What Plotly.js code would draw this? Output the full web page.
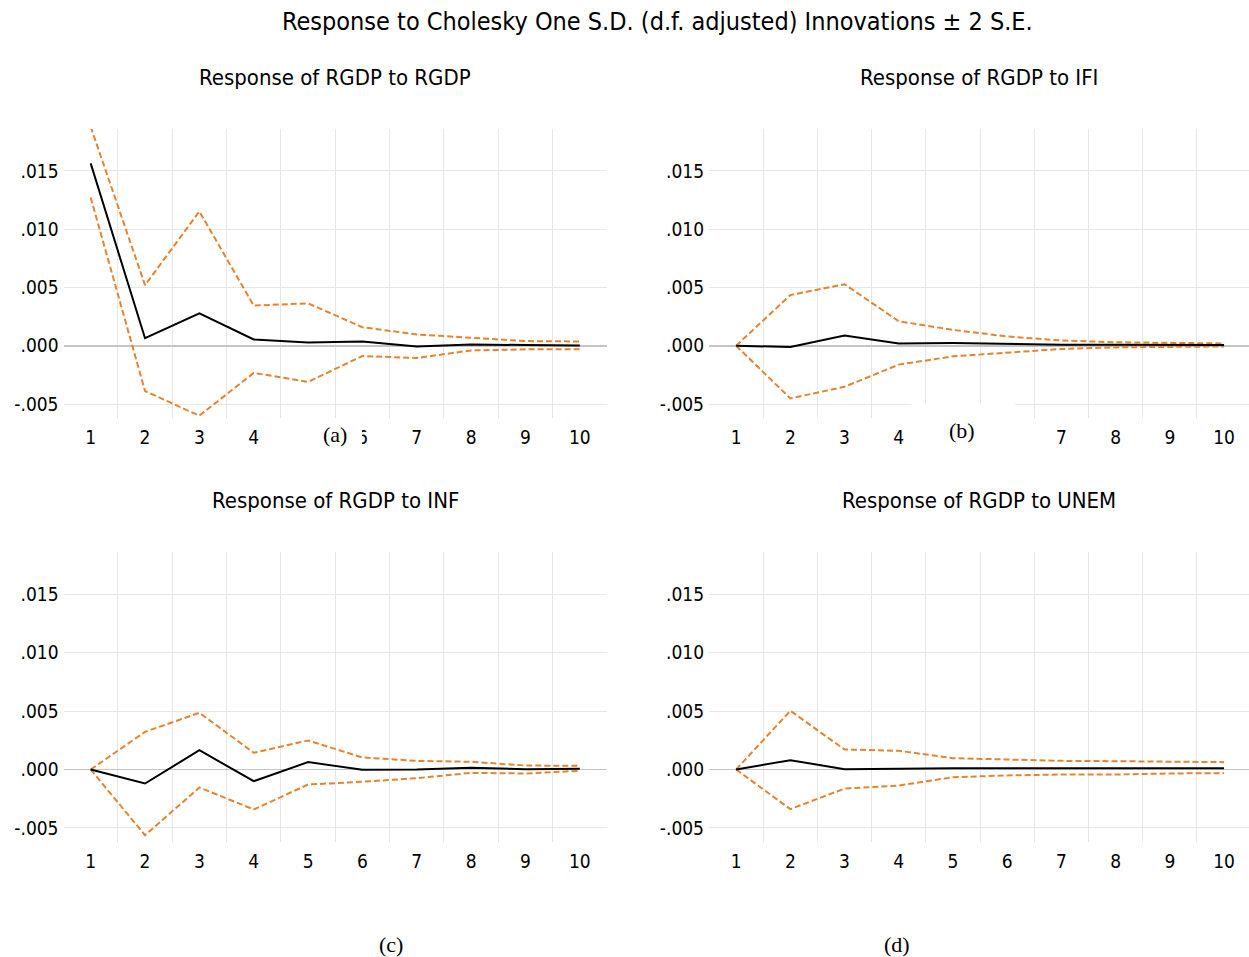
<!DOCTYPE html>
<html>
<head>
<meta charset="utf-8">
<script src="https://cdn.plot.ly/plotly-3.0.1.min.js"></script>
<style>html,body{margin:0;padding:0;background:#fff;}#chart{width:1249px;height:957px;}</style>
</head>
<body>
<div id="chart"></div>
<script>
// ---- data ----
const periods = [1, 2, 3, 4, 5, 6, 7, 8, 9, 10];
const periodLabels = ['1', '2', '3', '4', '5', '6', '7', '8', '9', '10'];
// tick labels as they are visible in each panel (5/6 hidden under the panel letters in a and b)
const periodLabelsA = ['1', '2', '3', '4', '', '6', '7', '8', '9', '10'];
const periodLabelsB = ['1', '2', '3', '4', '', '', '7', '8', '9', '10'];
const yTickVals = [-0.005, 0, 0.005, 0.010, 0.015];
const yTickText = ['-.005', '.000', '.005', '.010', '.015'];

const mainTitle = 'Response to Cholesky One S.D. (d.f. adjusted) Innovations ± 2 S.E.';
const panelTitles = ['Response of RGDP to RGDP', 'Response of RGDP to IFI', 'Response of RGDP to INF', 'Response of RGDP to UNEM'];
const panelLetters = ['(a)', '(b)', '(c)', '(d)'];

// (a) RGDP -> RGDP
const rgdpResp  = [0.01565, 0.00065, 0.00278, 0.00054, 0.00028, 0.00037, -0.00006, 0.00011, 0.00006, 0.00003];
const rgdpUpper = [0.0188, 0.0052, 0.01153, 0.00344, 0.00364, 0.00159, 0.00097, 0.00068, 0.00040, 0.00037];
const rgdpLower = [0.01273, -0.00389, -0.0060, -0.00233, -0.0031, -0.00088, -0.00105, -0.00040, -0.00031, -0.00031];

// (b) RGDP -> IFI
const ifiResp  = [0.0, -0.00011, 0.00088, 0.00020, 0.00023, 0.00014, 0.00009, 0.00008, 0.00008, 0.00006];
const ifiUpper = [0.0, 0.00435, 0.00528, 0.00210, 0.00136, 0.00080, 0.00045, 0.00030, 0.00025, 0.00020];
const ifiLower = [0.0, -0.00452, -0.00352, -0.00162, -0.00091, -0.00057, -0.00028, -0.00014, -0.00010, -0.00006];

// (c) RGDP -> INF
const infResp  = [0.0, -0.0012, 0.00165, -0.0010, 0.00063, -0.00003, 0.0, 0.00014, 0.00003, 0.00006];
const infUpper = [0.0, 0.00322, 0.00485, 0.00143, 0.00248, 0.00103, 0.00074, 0.00066, 0.00034, 0.00031];
const infLower = [0.0, -0.00562, -0.00154, -0.00342, -0.00128, -0.00105, -0.00074, -0.00029, -0.00034, -0.00011];

// (d) RGDP -> UNEM
const unemResp  = [0.0, 0.0008, 0.00003, 0.00009, 0.00011, 0.00011, 0.00011, 0.00011, 0.00011, 0.00011];
const unemUpper = [0.0, 0.00502, 0.00171, 0.00160, 0.00097, 0.00083, 0.00074, 0.00071, 0.00066, 0.00063];
const unemLower = [0.0, -0.00339, -0.00163, -0.00137, -0.00066, -0.00051, -0.00043, -0.00043, -0.00034, -0.00031];

// ---- layout helpers ----
const W = 1249, H = 957;
const px = x => x / W;
const py = y => 1 - y / H;

const FONT = '"Liberation Sans Narrow", "DejaVu Sans Condensed", "Open Sans", sans-serif';
const SERIF = '"Liberation Serif", "DejaVu Serif", serif';
const ORANGE = '#E5832F';

const panels = [
  {resp: rgdpResp, up: rgdpUpper, lo: rgdpLower, labels: periodLabelsA, x0: 63.5, x1: 607, y0: 129, y1: 418, xr: [0.5, 10.5]},
  {resp: ifiResp,  up: ifiUpper,  lo: ifiLower,  labels: periodLabelsB, x0: 709,  x1: 1249, y0: 129, y1: 418, xr: [0.5, 10.46]},
  {resp: infResp,  up: infUpper,  lo: infLower,  labels: periodLabels,  x0: 63.5, x1: 607, y0: 552, y1: 842, xr: [0.5, 10.5]},
  {resp: unemResp, up: unemUpper, lo: unemLower, labels: periodLabels,  x0: 709,  x1: 1249, y0: 552, y1: 842, xr: [0.5, 10.46]}
];
const titlePos = [[335, 78], [979, 78], [335, 501], [979, 501]];
const letterPos = [[335, 434], [962, 431], [391, 944], [897, 944]];

const minorVals = periods.slice(0, -1).map(v => v + 0.5);

const traces = [];
const layout = {
  width: W, height: H,
  margin: {l: 0, r: 0, t: 0, b: 0},
  paper_bgcolor: '#ffffff', plot_bgcolor: '#ffffff',
  showlegend: false,
  font: {family: FONT, color: '#000', size: 18},
  annotations: [],
  shapes: []
};

panels.forEach((p, i) => {
  const n = i + 1;
  const xa = n === 1 ? 'x' : 'x' + n;
  const ya = n === 1 ? 'y' : 'y' + n;
  const dash = {color: ORANGE, width: 2, dash: '6px,3px'};
  traces.push({x: periods, y: p.up, xaxis: xa, yaxis: ya, type: 'scatter', mode: 'lines', line: dash, hoverinfo: 'skip'});
  traces.push({x: periods, y: p.lo, xaxis: xa, yaxis: ya, type: 'scatter', mode: 'lines', line: dash, hoverinfo: 'skip'});
  traces.push({x: periods, y: p.resp, xaxis: xa, yaxis: ya, type: 'scatter', mode: 'lines', line: {color: '#000', width: 2}, hoverinfo: 'skip'});

  layout['xaxis' + (n === 1 ? '' : n)] = {
    domain: [px(p.x0), px(p.x1)],
    anchor: ya,
    range: p.xr,
    tickmode: 'array', tickvals: periods, ticktext: p.labels,
    showgrid: false, zeroline: false, showline: false, ticks: '',
    ticklabelstandoff: 6,
    minor: {tickmode: 'array', tickvals: minorVals, showgrid: true, gridcolor: '#e6e6e6', gridwidth: 1, ticks: ''},
    tickfont: {family: FONT, size: 19, color: '#000'},
    fixedrange: true
  };
  layout['yaxis' + (n === 1 ? '' : n)] = {
    domain: [py(p.y1), py(p.y0)],
    anchor: xa,
    range: [-0.0062, 0.0186],
    tickmode: 'array', tickvals: yTickVals, ticktext: yTickText,
    showgrid: true, gridcolor: '#e6e6e6', gridwidth: 1,
    zeroline: true, zerolinecolor: '#c4c4c4', zerolinewidth: 1.6,
    showline: false, ticks: '',
    ticklabelstandoff: 4,
    tickfont: {family: FONT, size: 19, color: '#000'},
    fixedrange: true
  };

  layout.annotations.push({
    text: panelTitles[i], xref: 'paper', yref: 'paper',
    x: px(titlePos[i][0]), y: py(titlePos[i][1]), xanchor: 'center', yanchor: 'middle',
    showarrow: false, font: {family: FONT, size: 22, color: '#000'}
  });
});

// white patches that hide parts of the axes under the (a) and (b) labels
layout.shapes.push({type: 'rect', xref: 'paper', yref: 'paper', layer: 'above',
  x0: px(288), x1: px(362), y0: py(452), y1: py(421), fillcolor: '#ffffff', line: {width: 0}});
layout.shapes.push({type: 'rect', xref: 'paper', yref: 'paper', layer: 'above',
  x0: px(911), x1: px(1015), y0: py(452), y1: py(403), fillcolor: '#ffffff', line: {width: 0}});

panelLetters.forEach((t, i) => {
  layout.annotations.push({
    text: t, xref: 'paper', yref: 'paper',
    x: px(letterPos[i][0]), y: py(letterPos[i][1]), xanchor: 'center', yanchor: 'middle',
    showarrow: false, font: {family: SERIF, size: 22, color: '#000'}
  });
});

layout.annotations.push({
  text: mainTitle, xref: 'paper', yref: 'paper',
  x: px(657), y: py(22), xanchor: 'center', yanchor: 'middle',
  showarrow: false, font: {family: FONT, size: 25, color: '#000'}
});

Plotly.newPlot('chart', traces, layout, {displayModeBar: false, staticPlot: true});
</script>
</body>
</html>
